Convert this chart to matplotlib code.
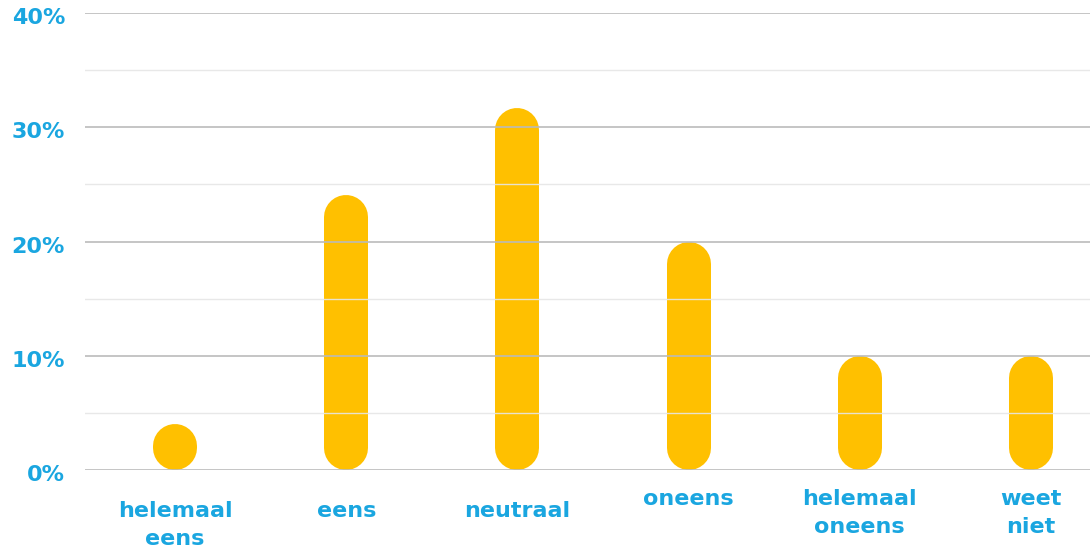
import matplotlib.pyplot as plt
from matplotlib.transforms import offset_copy

categories = ["helemaal\neens", "eens", "neutraal", "oneens", "helemaal\noneens", "weet\nniet"]
values = [4, 24.1, 31.7, 20, 10, 10]
yticks = [0, 10, 20, 30, 40]
ytick_labels = ["0%", "10%", "20%", "30%", "40%"]

blue = "#1aa6e0"
yellow = "#ffc000"
plt.rcParams['font.family'] = ['DejaVu Sans']

fig = plt.figure(figsize=(10.9, 5.49), dpi=100)
ax = fig.add_axes([0.078, 0.1439, 0.922, 0.8324])
ax.set_xlim(-0.526, 5.345)
ax.set_ylim(0, 40)

# capsule bars: thick line with round caps, shortened by the cap radius
bar_px = 44
fig_h_px = 549
px_per_unit = ax.get_position().height * fig_h_px / 40
r = bar_px / 2 / px_per_unit
for i, v in enumerate(values):
    lo, hi = r, max(v - r, r)
    ax.plot([i, i], [lo, hi], color=yellow, lw=bar_px * 0.72,
            solid_capstyle='round', zorder=2)

# grid drawn over the bars
for y in range(0, 41, 5):
    major = y % 10 == 0
    ax.axhline(y, color="#bababa" if major else "#e6e6e6",
               lw=1.3 if major else 1.0, alpha=0.9, zorder=3)

for s in ax.spines.values():
    s.set_visible(False)
ax.set_xticks([])
ax.set_yticks([])

# y labels
lab_tr = offset_copy(ax.get_yaxis_transform(), fig=fig, x=-20, y=-5, units='dots')
for t, l in zip(yticks, ytick_labels):
    ax.text(0, t, l, transform=lab_tr, ha='right', va='center',
            color=blue, fontsize=16, fontweight='bold')

# category labels; the right-hand group sits a little higher
label_y = [-2.75, -2.75, -2.75, -1.7, -1.7, -1.7]
for i, (c, ly) in enumerate(zip(categories, label_y)):
    ax.text(i, ly, c, ha='center', va='top', color=blue, fontsize=16,
            fontweight='bold', linespacing=1.45, clip_on=False)

fig.savefig("out.png", dpi=100)
